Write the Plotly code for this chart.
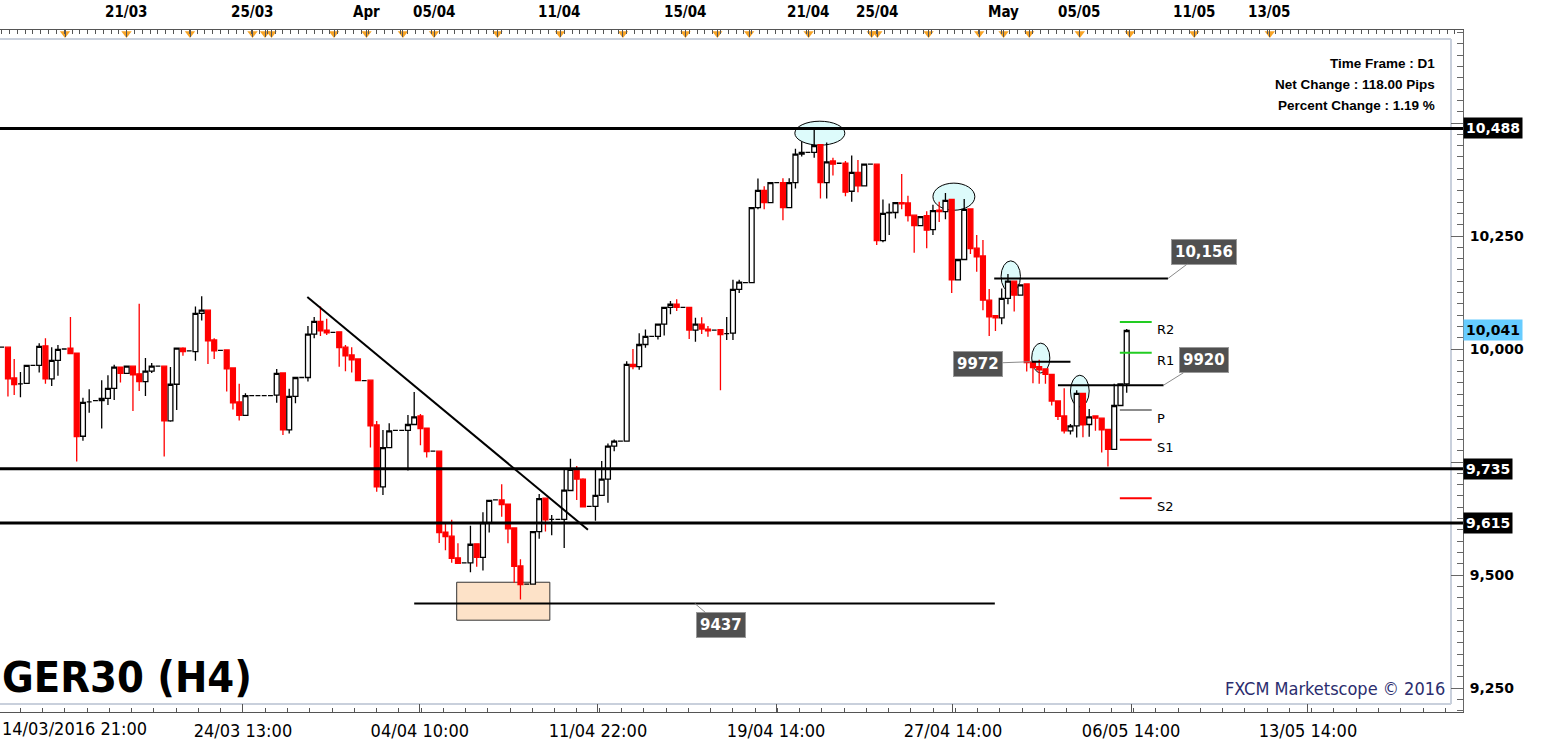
import plotly.graph_objects as go

# ---------------- data ----------------
open_ = [10004,10004,9936,9923,9924,9964,9964,10007,9934,9975,
         10000,10002,9991,9807,9883,9886,9886,9891,9913,9960,
         9946,9962,9945,9928,9951,9962,9962,9841,9922,10002,
         9996,9994,10079,10086,10020,9997,9998,9958,9883,9853,
         9897,9897,9897,9897,9898,9947,9821,9895,9937,9937,
         10033,10061,10042,10037,10038,10004,9987,9978,9930,9931,
         9832,9695,9782,9820,9820,9820,9833,9852,9825,9774,
         9774,9595,9586,9538,9527,9527,9569,9539,9616,9666,
         9666,9657,9604,9520,9480,9480,9596,9670,9623,9623,
         9623,9687,9732,9712,9652,9652,9676,9712,9785,9796,
         9796,9966,9961,10010,10028,10028,10055,10092,10099,10092,
         10092,10042,10055,10044,10042,10043,10034,10035,10132,10147,
         10147,10313,10351,10324,10368,10368,10313,10368,10431,10435,
         10435,10452,10368,10416,10411,10411,10349,10391,10361,10409,
         10409,10240,10301,10302,10324,10323,10296,10273,10295,10264,
         10307,10304,10331,10153,10198,10310,10223,10206,10108,10074,
         10069,10112,10150,10119,10144,9972,9961,9956,9944,9885,
         9852,9819,9830,9902,9833,9852,9847,9822,9778,9875,
         9923]
high = [10004,10004,9978,9949,9964,9964,10013,10024,10004,10009,
        10000,10071,9991,9892,9911,9886,9931,9942,9965,9960,
        9962,9962,10100,9980,9969,9962,9962,9960,10002,10004,
        9996,10094,10117,10086,10024,9997,9998,9958,9923,9902,
        9897,9897,9897,9897,9956,9947,9912,9937,9937,10051,
        10071,10094,10067,10037,10038,10009,10004,9978,9930,9931,
        9841,9821,9836,9820,9820,9854,9905,9856,9825,9774,
        9774,9613,9622,9570,9527,9609,9569,9639,9665,9666,
        9701,9657,9604,9535,9480,9596,9679,9670,9633,9623,
        9736,9757,9741,9714,9652,9734,9752,9791,9800,9796,
        9973,10000,10035,10043,10028,10055,10092,10106,10110,10092,
        10092,10069,10070,10051,10042,10043,10071,10153,10153,10147,
        10313,10377,10360,10368,10368,10378,10378,10443,10459,10435,
        10485,10452,10457,10423,10411,10416,10428,10418,10409,10409,
        10409,10331,10322,10324,10387,10339,10296,10293,10305,10319,
        10326,10345,10331,10198,10332,10310,10252,10241,10133,10074,
        10134,10166,10150,10142,10144,9972,9976,9956,9944,9885,
        9913,9834,9909,9902,9867,9852,9847,9822,9923,9923,
        10044]
low = [10004,9895,9898,9893,9924,9964,9948,9923,9918,9941,
       10000,9990,9751,9797,9859,9886,9824,9876,9887,9926,
       9946,9863,9907,9896,9947,9962,9762,9839,9865,9985,
       9996,9974,10063,9967,9978,9997,9906,9866,9842,9853,
       9897,9897,9897,9897,9881,9810,9813,9880,9937,9928,
       10024,10029,10031,10037,9961,9951,9948,9930,9930,9782,
       9684,9677,9782,9820,9820,9731,9833,9787,9760,9774,
       9571,9555,9527,9526,9527,9506,9518,9510,9594,9666,
       9629,9570,9483,9446,9480,9480,9580,9596,9588,9623,
       9560,9687,9666,9651,9652,9620,9676,9660,9774,9796,
       9796,9955,9954,10003,10028,10021,10030,10077,10084,10092,
       10022,10016,10033,10027,10042,9909,10020,10020,10124,10147,
       10147,10309,10309,10324,10368,10285,10313,10355,10426,10435,
       10423,10333,10333,10384,10411,10338,10326,10347,10361,10409,
       10230,10236,10252,10289,10309,10282,10213,10273,10223,10252,
       10281,10287,10124,10153,10198,10210,10171,10086,10029,10040,
       10055,10099,10083,10119,9950,9924,9923,9923,9875,9843,
       9813,9811,9804,9805,9806,9819,9771,9740,9778,9875,
       9903]
close = [10004,9934,9921,9923,9964,9964,10006,9934,9975,9999,
         10000,9990,9806,9882,9883,9886,9891,9913,9960,9946,
         9962,9943,9928,9951,9962,9962,9841,9922,10002,9994,
         9996,10079,10086,10018,9996,9997,9956,9881,9853,9897,
         9897,9897,9897,9897,9946,9821,9895,9937,9937,10033,
         10061,10040,10036,10037,10003,9985,9976,9930,9930,9830,
         9695,9782,9819,9820,9820,9833,9850,9824,9773,9774,
         9594,9585,9537,9526,9527,9568,9539,9616,9665,9666,
         9656,9602,9519,9479,9480,9596,9669,9622,9623,9623,
         9688,9734,9712,9651,9652,9676,9712,9785,9796,9796,
         9966,9961,10010,10028,10028,10055,10092,10099,10092,10092,
         10042,10055,10044,10040,10042,10032,10034,10132,10148,10147,
         10313,10351,10324,10368,10368,10313,10368,10431,10435,10435,
         10450,10368,10414,10409,10411,10347,10391,10361,10409,10409,
         10240,10300,10302,10324,10321,10295,10273,10293,10263,10306,
         10304,10329,10153,10198,10309,10222,10204,10108,10071,10069,
         10112,10150,10119,10142,9970,9959,9954,9944,9885,9851,
         9819,9830,9902,9832,9850,9847,9821,9778,9875,9923,
         10041]
candle_idx = list(range(len(open_)))

bottom_tick_pos = [10.1, 38.6, 66.9, 95.4, 123.9, 152.2, 180.7, 209.0]
bottom_tick_text = ["14/03/2016 21:00", "24/03 13:00", "04/04 10:00", "11/04 22:00",
                    "19/04 14:00", "27/04 14:00", "06/05 14:00", "13/05 14:00"]
top_label_pos = [19.9, 40.05, 58.3, 69.2, 89.3, 109.4, 129.1, 140.05, 160.3, 172.5, 190.8, 202.9]
top_label_text = ["21/03", "25/03", "Apr", "05/04", "11/04", "15/04", "21/04", "25/04",
                  "May", "05/05", "11/05", "13/05"]
event_pos = [10.13, 19.97, 30.13, 40.13, 42.13, 43.17, 53.17, 58.37, 64.2, 69.17, 79.33,
             89.33, 99.4, 109.4, 114.5, 119.6, 129.1, 139.2, 140.1, 148.3, 156.4, 160.3,
             164.4, 172.5, 180.5, 190.8, 202.9]

key_levels = [10488, 9735, 9615]
last_price = 10041
axis_labels = [9250, 9500, 9750, 10000, 10250, 10500]

# drawn studies (candle-index / price units)
trend_x = [48.9, 93.8]
trend_y = [10115, 9600]
marked_levels = [  # (start, end, price, label, anchor, label dx, label dy)
    (158.8, 186.6, 10156, "10,156", 186.6, 36, -27),
    (164.8, 171.0, 9972, "9972", 164.8, -54, 2),
    (169.0, 185.9, 9920, "9920", 185.9, 40, -25),
    (66.0, 158.9, 9437, "9437", 110.9, 26, 22),
]
pivot_names = ["R2", "R1", "P", "S1", "S2"]
pivot_values = [10060, 9992, 9865, 9799, 9670]
pivot_colors = ["#22CC22", "#22CC22", "#8C8C8C", "#FF0000", "#FF0000"]
pivot_span = [178.9, 184.0]
ellipses = [(126.9, 134.9, 10451, 10504), (149.0, 155.7, 10307, 10367),
            (159.9, 163.0, 10126, 10195), (164.8, 167.7, 9947, 10013),
            (171.0, 174.0, 9872, 9942)]
zone = (72.8, 87.7, 9400, 9484)

# ---------------- geometry ----------------
W, Hh = 1545, 742
m_l, m_r, m_t, m_b = 0, 82, 30, 30
plot_w, plot_h = W - m_l - m_r, Hh - m_t - m_b
px_per_candle = 6.25
x0 = -1.7 / px_per_candle
x_range = [x0, x0 + plot_w / px_per_candle]
y_range = [9196.9, 10705.8]
val_per_px = (y_range[1] - y_range[0]) / plot_h

up = [i for i in candle_idx if close[i] >= open_[i]]
dn = [i for i in candle_idx if close[i] < open_[i]]

def pick(arr, ids):
    return [arr[i] for i in ids]

fig = go.Figure()
for ids, fill, line in [(up, "white", "black"), (dn, "#FF0000", "#FF0000")]:
    fig.add_trace(go.Candlestick(
        x=ids, open=pick(open_, ids), high=pick(high, ids), low=pick(low, ids), close=pick(close, ids),
        increasing=dict(fillcolor=fill, line=dict(color=line, width=1.3)),
        decreasing=dict(fillcolor=fill, line=dict(color=line, width=1.3)),
        whiskerwidth=0, hoverinfo="skip", showlegend=False))

# event triangles hanging under the top ruler
fig.add_trace(go.Scatter(
    x=event_pos, y=[y_range[1] - 3.5 * val_per_px] * len(event_pos), mode="markers",
    marker=dict(symbol="triangle-down", size=9, color="#F7A325", line=dict(width=0)),
    cliponaxis=False, hoverinfo="skip", showlegend=False))

frame_col = "#C9D0DC"
shapes = []
# light inner frame
shapes.append(dict(type="line", xref="paper", yref="paper", x0=0, x1=1451 / plot_w,
                   y0=1 - 9 / plot_h, y1=1 - 9 / plot_h, line=dict(color=frame_col, width=2), layer="below"))
shapes.append(dict(type="line", xref="paper", yref="paper", x0=1451 / plot_w, x1=1451 / plot_w,
                   y0=8 / plot_h, y1=1 - 9 / plot_h, line=dict(color=frame_col, width=2), layer="below"))
shapes.append(dict(type="line", xref="paper", yref="paper", x0=0, x1=1451 / plot_w,
                   y0=8 / plot_h, y1=8 / plot_h, line=dict(color=frame_col, width=2), layer="below"))
for (a, b, lo, hi) in ellipses:
    shapes.append(dict(type="circle", xref="x", yref="y", x0=a, x1=b, y0=lo, y1=hi,
                       fillcolor="#DDFBFB", line=dict(color="black", width=1), layer="below"))
shapes.append(dict(type="rect", xref="x", yref="y", x0=zone[0], x1=zone[1], y0=zone[2], y1=zone[3],
                   fillcolor="#FDE2C8", line=dict(color="#333333", width=1), layer="below"))
for lv in key_levels:
    shapes.append(dict(type="line", xref="paper", yref="y", x0=0, x1=1, y0=lv, y1=lv,
                       line=dict(color="black", width=3)))
shapes.append(dict(type="line", xref="x", yref="y", x0=trend_x[0], x1=trend_x[1],
                   y0=trend_y[0], y1=trend_y[1], line=dict(color="black", width=2)))
for (a, b, p, *_rest) in marked_levels:
    shapes.append(dict(type="line", xref="x", yref="y", x0=a, x1=b, y0=p, y1=p,
                       line=dict(color="black", width=2)))
for v, c in zip(pivot_values, pivot_colors):
    shapes.append(dict(type="line", xref="x", yref="y", x0=pivot_span[0], x1=pivot_span[1],
                       y0=v, y1=v, line=dict(color=c, width=2)))

COND = "DejaVu Sans Condensed, DejaVu Sans, sans-serif"
ann = []
axbox_font = dict(family="DejaVu Sans", size=14, color="white", weight="bold")
for lv in key_levels:
    ann.append(dict(xref="paper", yref="y", x=1, y=lv, xanchor="left", yanchor="middle",
                    text=f"{lv:,}", showarrow=False, bgcolor="black", font=axbox_font, borderpad=2))
ann.append(dict(xref="paper", yref="y", x=1, y=last_price, xanchor="left", yanchor="middle",
                text=f"{last_price:,}", showarrow=False, bgcolor="#66CCFF",
                font=dict(family="DejaVu Sans", size=14, color="black", weight="bold"), borderpad=2))
lbl_font = dict(family="DejaVu Sans", size=15, color="white", weight="bold")
for (a, b, p, txt, at, dx, dy) in marked_levels:
    ann.append(dict(xref="x", yref="y", x=at, y=p, text=txt, showarrow=True,
                    ax=dx, ay=dy, arrowhead=0, arrowwidth=1, arrowcolor="#8A8A8A",
                    bgcolor="#505050", bordercolor="#9A9A9A", borderwidth=1,
                    font=lbl_font, borderpad=3))
for n, v in zip(pivot_names, pivot_values):
    ann.append(dict(xref="x", yref="y", x=pivot_span[1] + 0.6, y=v, text=n, showarrow=False,
                    xanchor="left", yanchor="middle", yshift=-8,
                    font=dict(family="DejaVu Sans", size=13, color="black")))
for p, t in zip(top_label_pos, top_label_text):
    ann.append(dict(xref="x", yref="paper", x=p, y=1 + 18 / plot_h, text=t, showarrow=False,
                    xanchor="center", yanchor="middle",
                    font=dict(family=COND, size=15, color="black", weight="bold")))
info = ["Time Frame : D1", "Net Change : 118.00 Pips", "Percent Change : 1.19 %"]
for k, t in enumerate(info):
    ann.append(dict(xref="paper", yref="paper", x=1437 / plot_w, y=1 - (34 + 20.5 * k) / plot_h, text=t,
                    showarrow=False, xanchor="right", yanchor="middle",
                    font=dict(family="Liberation Sans", size=13.5, color="black", weight="bold")))
ann.append(dict(xref="paper", yref="paper", x=0, y=(712 - 677) / plot_h, text="GER30 (H4)",
                showarrow=False, xanchor="left", yanchor="middle",
                font=dict(family=COND, size=43, color="black", weight="bold")))
ann.append(dict(xref="paper", yref="paper", x=1447 / plot_w, y=(712 - 688) / plot_h,
                text="FXCM Marketscope © 2016", showarrow=False, xanchor="right", yanchor="middle",
                font=dict(family=COND, size=18, color="#2B2D6E")))
ann.append(dict(xref="paper", yref="paper", x=0, y=-16 / plot_h, text=bottom_tick_text[0],
                showarrow=False, xanchor="left", yanchor="middle",
                font=dict(family=COND, size=18, color="black")))

fig.update_layout(
    width=W, height=Hh, margin=dict(l=m_l, r=m_r, t=m_t, b=m_b, autoexpand=False),
    paper_bgcolor="white", plot_bgcolor="white",
    boxgap=0.22, boxgroupgap=0, showlegend=False,
    shapes=shapes, annotations=ann,
    xaxis=dict(range=x_range, showgrid=False, zeroline=False, rangeslider=dict(visible=False),
               automargin=False, showline=True, linecolor="#555555", linewidth=1,
               tickmode="array", tickvals=bottom_tick_pos[1:], ticktext=bottom_tick_text[1:],
               ticks="inside", ticklen=8, tickcolor="#555555",
               minor=dict(tickmode="linear", tick0=bottom_tick_pos[0],
                          dtick=(bottom_tick_pos[1] - bottom_tick_pos[0]) / 8,
                          ticks="inside", ticklen=4, tickcolor="#555555"),
               ticklabelstandoff=2,
               tickfont=dict(family=COND, size=18, color="black")),
    xaxis2=dict(overlaying="x", matches="x", side="top", showgrid=False, zeroline=False,
                automargin=False, showline=True, linecolor="#555555", showticklabels=False,
                tickmode="array", tickvals=event_pos, ticks="inside", ticklen=7, tickcolor="#555555",
                minor=dict(tickmode="linear", tick0=0, dtick=1.25, ticks="inside", ticklen=4,
                           tickcolor="#555555")),
    yaxis=dict(range=y_range, side="right", showgrid=False, zeroline=False, automargin=False,
               showline=True, linecolor="#666666", linewidth=1,
               tickmode="array", tickvals=axis_labels,
               ticktext=[f"{v:,}" if v not in (9750, 10500) else "" for v in axis_labels],
               ticks="inside", ticklen=12, tickcolor="#666666",
               minor=dict(tickmode="linear", tick0=0, dtick=25, ticks="inside", ticklen=6,
                          tickcolor="#666666"),
               ticklabelstandoff=3,
               tickfont=dict(family="DejaVu Sans", size=14, color="black", weight="bold")),
)
# invisible point to activate the top ruler axis
fig.add_trace(go.Scatter(x=[x_range[0]], y=[y_range[0]], xaxis="x2", mode="markers",
                         marker=dict(opacity=0), hoverinfo="skip", showlegend=False))

fig.write_html("out.html", config={"displayModeBar": False},
               post_script="document.body.style.margin='0';document.body.style.overflow='hidden';")
